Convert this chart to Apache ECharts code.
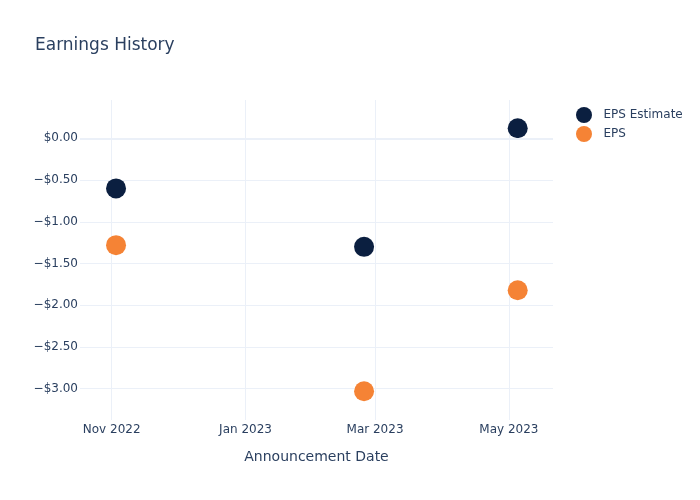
<!DOCTYPE html>
<html><head><meta charset="utf-8">
<script src="https://cdn.jsdelivr.net/npm/echarts@6/dist/echarts.min.js"></script>
<style>html,body{margin:0;padding:0;background:#fff}#c{width:700px;height:500px}</style>
</head><body><div id="c"></div>
<script>
const announceDates = ['2022-11-03', '2023-02-24', '2023-05-05'];
const epsEstimate = [-0.60, -1.30, 0.12];
const epsActual = [-1.28, -3.03, -1.82];
const xTickDates = ['2022-11-01', '2023-01-01', '2023-03-01', '2023-05-01'];
const xTickLabels = ['Nov 2022', 'Jan 2023', 'Mar 2023', 'May 2023'];
const yTicks = [-3, -2.5, -2, -1.5, -1, -0.5, 0];
const xRange = ['2022-10-17T14:00:00Z', '2023-05-21T02:00:00Z'];
const yRange = [-3.375, 0.459];

const ts = s => new Date(s.length === 10 ? s + 'T00:00:00Z' : s).getTime();
const xTickTs = xTickDates.map(ts);
const fmtMoney = v => (v < 0 ? '\u2212' : '') + '$' + Math.abs(v).toFixed(2);
const font = 'DejaVu Sans';
const textColor = '#2a3f5f';
const gridColor = '#EBF0F8';

const chart = echarts.init(document.getElementById('c'));
chart.setOption({
  animation: false,
  backgroundColor: '#fff',
  textStyle: { fontFamily: font },
  title: { text: 'Earnings History', left: 30, top: 32,
    textStyle: { fontFamily: font, fontSize: 17, fontWeight: 'normal', color: textColor } },
  legend: { orient: 'vertical', left: 571, top: 102, itemGap: 3, itemWidth: 29, itemHeight: 16,
    icon: 'circle', textStyle: { fontFamily: font, fontSize: 12, color: textColor },
    data: ['EPS Estimate', 'EPS'] },
  grid: { left: 80, right: 147, top: 100, bottom: 80, containLabel: false },
  xAxis: {
    type: 'value', min: ts(xRange[0]), max: ts(xRange[1]),
    name: 'Announcement Date', nameLocation: 'middle', nameGap: 30,
    nameTextStyle: { fontFamily: font, fontSize: 14, color: textColor },
    axisLine: { show: false },
    axisTick: { show: false, customValues: xTickTs },
    axisLabel: { customValues: xTickTs, margin: 4, fontFamily: font, fontSize: 12, color: textColor,
      formatter: v => { const i = xTickTs.indexOf(v); return i >= 0 ? xTickLabels[i] : ''; } },
    splitLine: { show: true, lineStyle: { color: gridColor, width: 1 } }
  },
  yAxis: {
    type: 'value', min: yRange[0], max: yRange[1],
    axisLine: { show: false },
    axisTick: { show: false, customValues: yTicks },
    axisLabel: { customValues: yTicks, margin: 2, fontFamily: font, fontSize: 12, color: textColor,
      formatter: v => fmtMoney(v) },
    splitLine: { show: true, lineStyle: { color: gridColor, width: 1 } }
  },
  series: [
    { name: 'EPS Estimate', type: 'scatter', symbolSize: 20,
      itemStyle: { color: '#0b1f40', opacity: 1 },
      data: announceDates.map((d, i) => [ts(d), epsEstimate[i]]),
      markLine: { silent: true, symbol: 'none', label: { show: false },
        lineStyle: { color: gridColor, width: 2, type: 'solid' }, data: [{ yAxis: 0 }] },
      z: 3 },
    { name: 'EPS', type: 'scatter', symbolSize: 20,
      itemStyle: { color: '#f58335', opacity: 1 },
      data: announceDates.map((d, i) => [ts(d), epsActual[i]]), z: 3 }
  ]
});
</script></body></html>
